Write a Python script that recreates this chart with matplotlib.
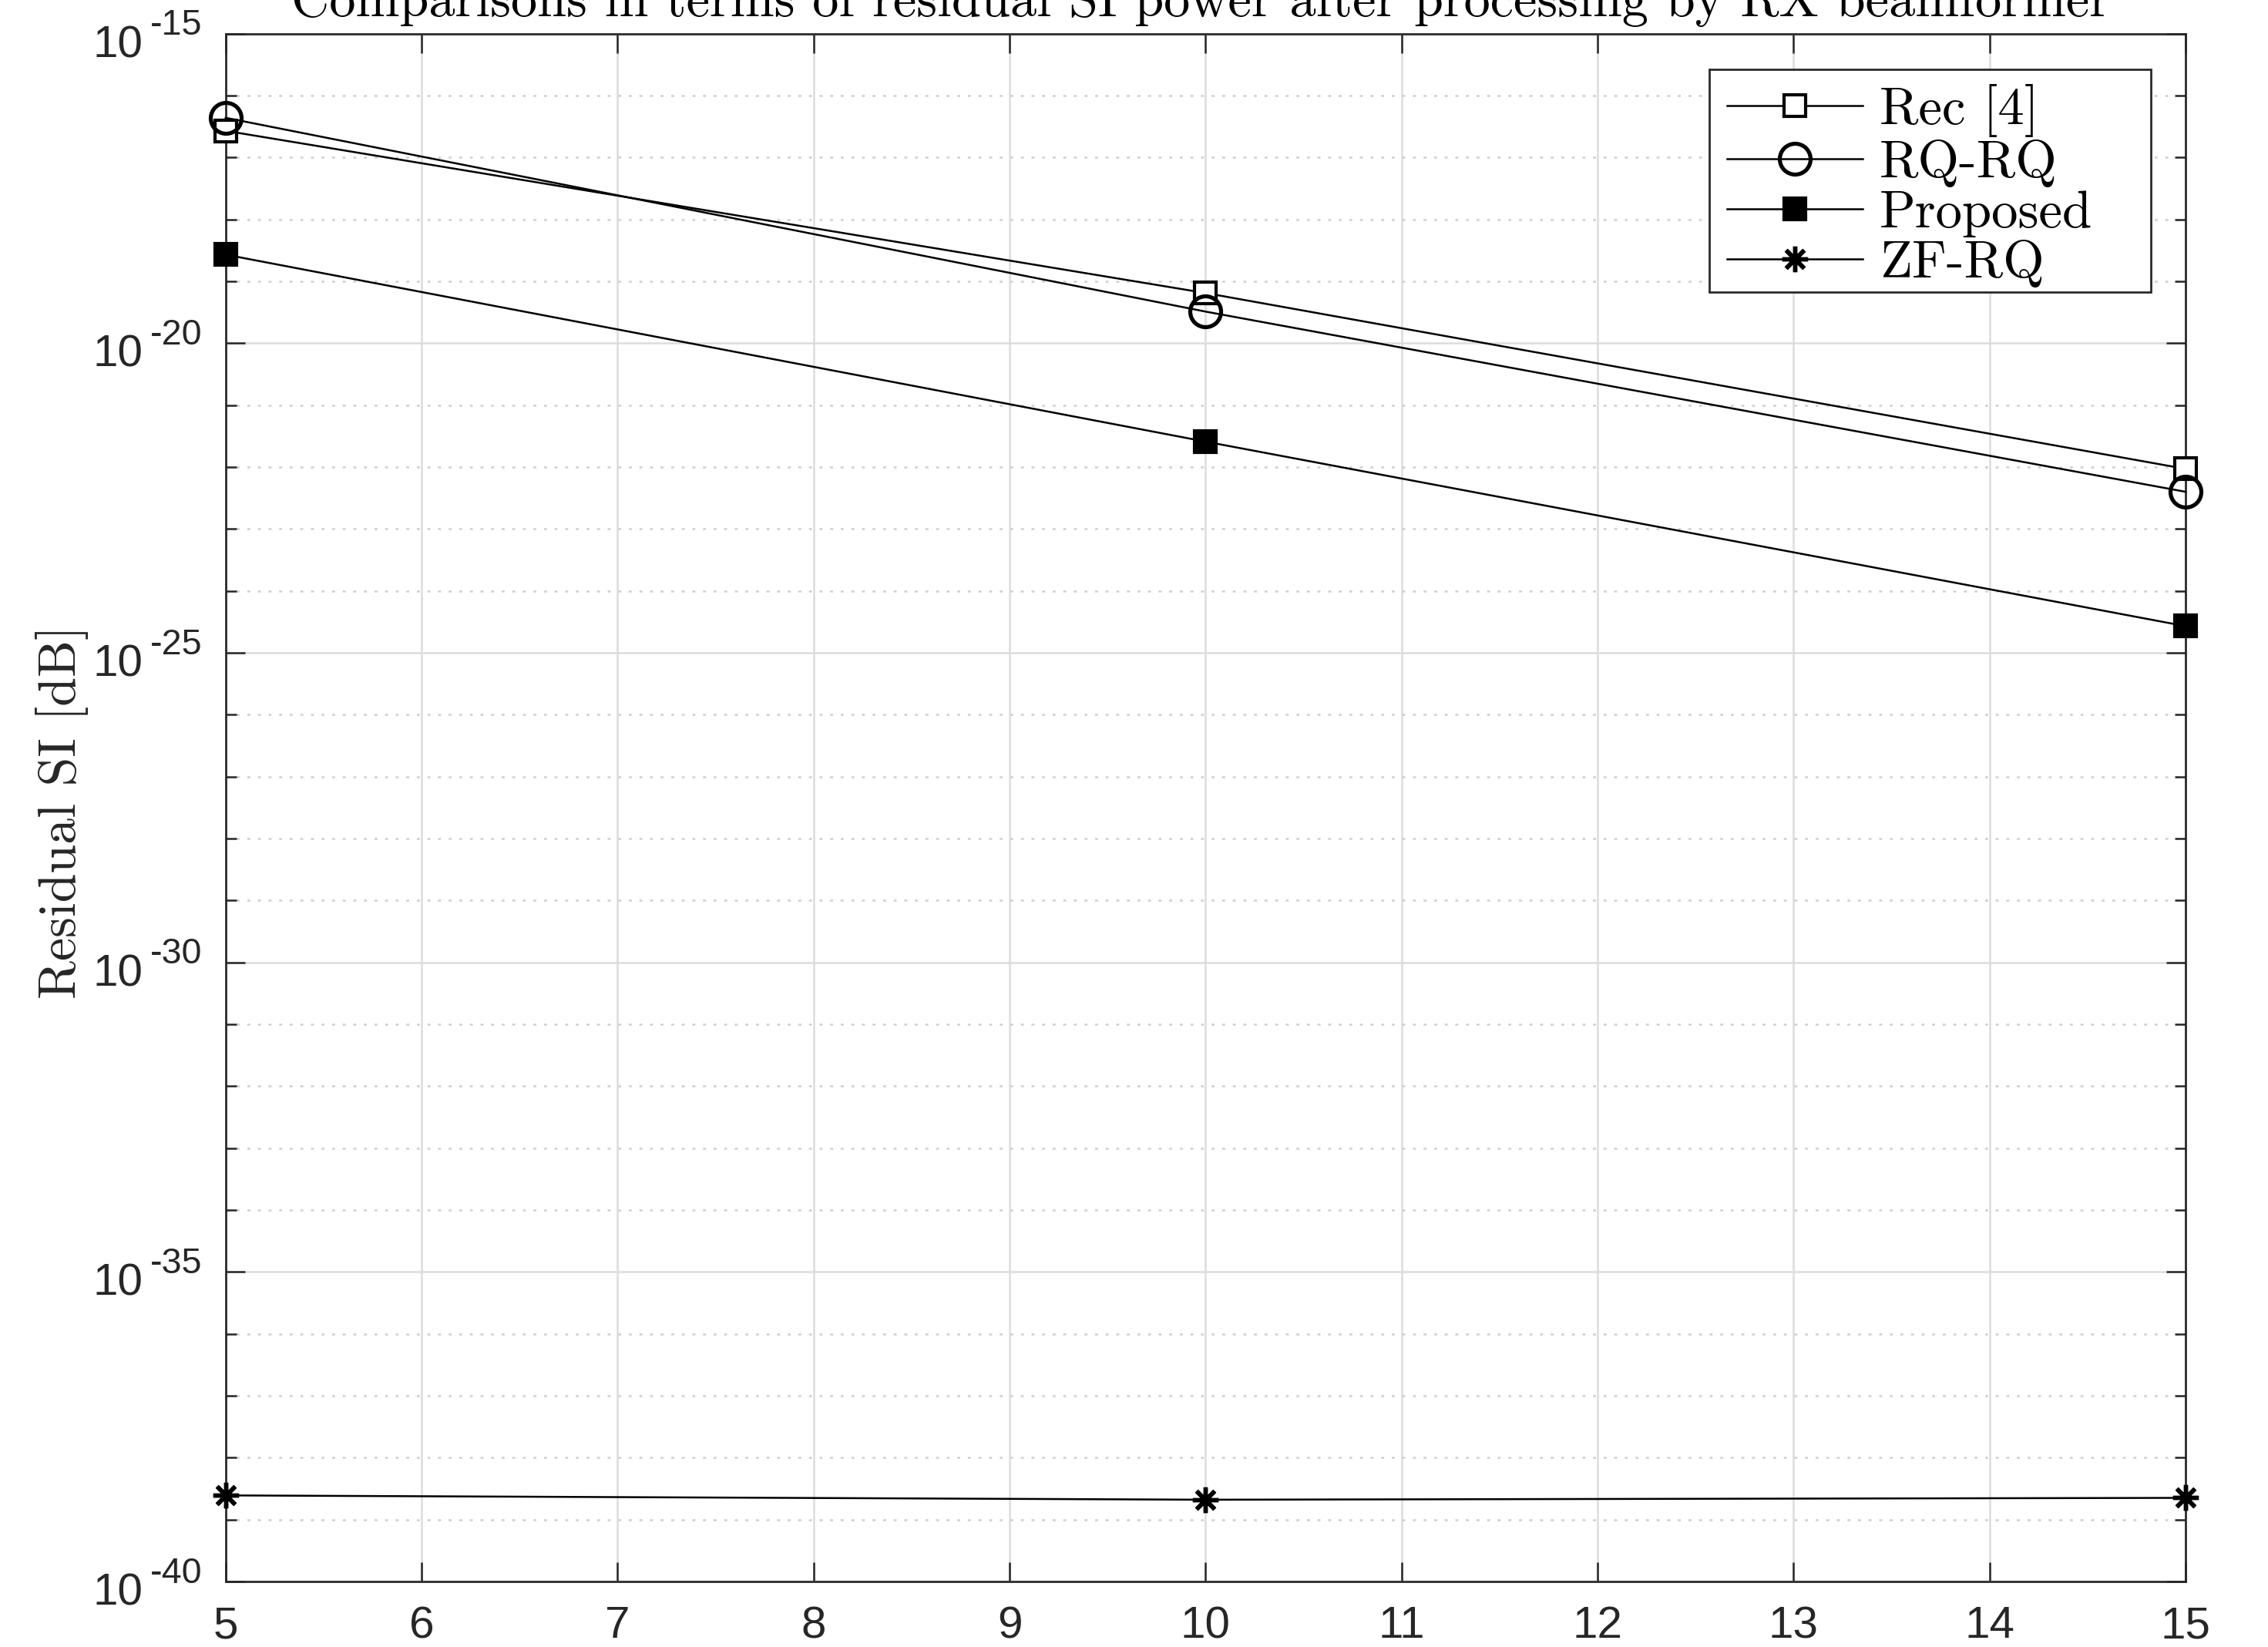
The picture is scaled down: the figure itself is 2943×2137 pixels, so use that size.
import numpy as np
import matplotlib
matplotlib.use('Agg')
import matplotlib.pyplot as plt
from matplotlib.patches import Rectangle
from matplotlib.ticker import FixedLocator, NullFormatter

# data (exponents)
n_values = [5, 10, 15]
rec4 = [-16.57, -19.19, -22.03]
rqrq = [-16.36, -19.49, -22.40]
proposed = [-18.57, -21.59, -24.57]
zfrq = [-38.61, -38.68, -38.65]

series_names = ['Rec [4]', 'RQ-RQ', 'Proposed', 'ZF-RQ']
title_text = 'Comparisons in terms of residual SI power after processing by RX beamformer'
ylabel_text = 'Residual SI [dB]'
major_exp = list(range(-40, -14, 5))
minor_exp = list(range(-40, -14, 1))
xticks = list(range(5, 16))

serif = 'cmr10'
sans = 'Liberation Sans'
axcol = '#262626'
W, H = 2943, 2137

fig = plt.figure(figsize=(W / 300, H / 300), dpi=300)
ax = fig.add_axes([0.0995, 0.0398, 0.9636 - 0.0995, 0.9796 - 0.0398])

ax.plot(n_values, 10.0 ** np.array(rec4), color='k', lw=0.6, marker='s', ms=6.7,
        mfc='white', mec='k', mew=1.0, label=series_names[0], clip_on=False, zorder=3)
ax.plot(n_values, 10.0 ** np.array(rqrq), color='k', lw=0.6, marker='o', ms=9.6,
        mfc='none', mec='k', mew=1.25, label=series_names[1], clip_on=False, zorder=3)
ax.plot(n_values, 10.0 ** np.array(proposed), color='k', lw=0.6, marker='s', ms=6.7,
        mfc='k', mec='k', mew=1.0, label=series_names[2], clip_on=False, zorder=3)
ax.plot(n_values, 10.0 ** np.array(zfrq), color='k', lw=0.6, marker=(8, 2, 0), ms=8,
        mec='k', mew=1.3, label=series_names[3], clip_on=False, zorder=3)

ax.set_yscale('log')
ax.set_xlim(5, 15)
ax.set_ylim(1e-40, 1e-15)

ax.yaxis.set_major_locator(FixedLocator([10.0 ** e for e in major_exp]))
ax.yaxis.set_minor_locator(FixedLocator([10.0 ** e for e in minor_exp]))
ax.yaxis.set_minor_formatter(NullFormatter())
ax.set_yticklabels([''] * len(major_exp))
ax.set_xticks(xticks)
ax.set_xticklabels([str(v) for v in xticks], fontfamily=sans, fontsize=14, color=axcol)

# MATLAB style 10^-n labels: big "10", hyphen exponent
ytr = ax.get_yaxis_transform()
for e in major_exp:
    ax.annotate('10', xy=(0, 10.0 ** e), xycoords=ytr, xytext=(-25.8, -7.3),
                textcoords='offset points', ha='right', va='baseline',
                fontfamily=sans, fontsize=14, color=axcol, annotation_clip=False)
    ax.annotate('%d' % e, xy=(0, 10.0 ** e), xycoords=ytr, xytext=(-23.4, -0.4),
                textcoords='offset points', ha='left', va='baseline',
                fontfamily=sans, fontsize=11.2, color=axcol, annotation_clip=False)

ax.tick_params(which='both', direction='in', top=True, right=True, colors=axcol, width=0.6)
ax.tick_params(which='major', length=6, pad=7.5)
ax.tick_params(which='minor', length=3.4)
ax.grid(True, which='major', color='#dcdcdc', lw=0.6, ls='-')
ax.grid(True, which='minor', axis='y', color='#cfcfcf', lw=0.6, ls=(0, (1.5, 4)))
ax.set_axisbelow(True)
for sp in ax.spines.values():
    sp.set_color(axcol)
    sp.set_linewidth(0.65)

ax.set_ylabel(ylabel_text, fontfamily=serif, fontsize=16.3, color=axcol, va='center')
ax.yaxis.set_label_coords(-0.0836, 0.497)
fig.text(0.5295, 1 - 21 / H, title_text, fontfamily=serif, fontsize=16.4,
         ha='center', va='baseline', color='k')

# legend box as in the MATLAB figure (wider than its text)
lx0, lx1, ly0, ly1 = 2218, 2791, 90, 379
leg = ax.legend(loc='upper left', bbox_to_anchor=(lx0 / W, 1 - (ly0 - 4) / H),
                bbox_transform=fig.transFigure, prop={'family': serif, 'size': 16.5},
                frameon=False, handlelength=2.56, handletextpad=0.32,
                labelspacing=0.05, borderpad=0.33, borderaxespad=0)
leg.set_zorder(6)
ax.add_patch(Rectangle((lx0 / W, 1 - ly1 / H), (lx1 - lx0) / W, (ly1 - ly0) / H,
                       transform=fig.transFigure, facecolor='white',
                       edgecolor=axcol, lw=0.65, zorder=5, clip_on=False))

fig.savefig('out.png', dpi=300)
